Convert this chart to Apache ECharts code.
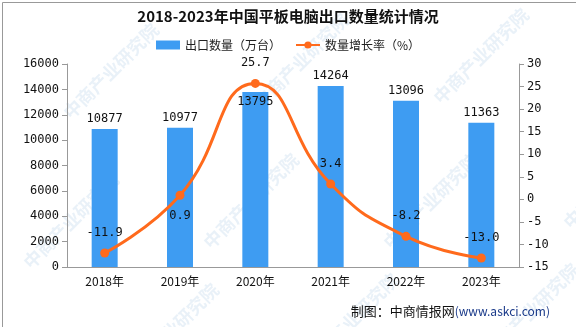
<!DOCTYPE html>
<html>
<head>
<meta charset="utf-8">
<script src="https://cdn.jsdelivr.net/npm/echarts@6/dist/echarts.min.js"></script>
<style>
html,body{margin:0;padding:0;background:#fff;}
#chart{width:576px;height:327px;}
</style>
</head>
<body>
<div id="chart"></div>
<script>
// 2018-2023 tablet export volume (10k units) and year-on-year growth (%)
const years = ['2018年', '2019年', '2020年', '2021年', '2022年', '2023年'];
const exportVolume = [10877, 10977, 13795, 14264, 13096, 11363];
const growthRate = [-11.9, 0.9, 25.7, 3.4, -8.2, -13.0];
const volumeLabelPos = ['top', 'top', 'insideTop', 'top', 'top', 'top'];
const growthLabelPos = ['top', 'bottom', 'top', 'top', 'top', 'top'];

const numFont = '"DejaVu Sans Mono", monospace';
const cjkFont = '"Noto Sans CJK SC", sans-serif';

const chart = echarts.init(document.getElementById('chart'));

// faint diagonal watermark text
const marks = [[60, 20], [250, 10], [430, 5], [20, 170], [200, 150], [380, 150], [560, 130], [120, 280], [300, 270], [480, 260]];
const watermark = marks.map(p => ({
  type: 'text', left: p[0], top: p[1], rotation: Math.PI / 4, z: 0, silent: true,
  style: { text: '中商产业研究院', fill: 'rgba(175,205,230,0.28)', font: 'bold 18px ' + cjkFont }
}));

chart.setOption({
  backgroundColor: '#fff',
  animation: false,
  title: {
    text: '2018-2023年中国平板电脑出口数量统计情况',
    left: 'center', top: 4,
    textStyle: { fontFamily: cjkFont, fontSize: 15, fontWeight: 'bold', color: '#111' }
  },
  legend: {
    top: 34, left: 'center', itemGap: 14, itemWidth: 24, itemHeight: 9,
    textStyle: { fontFamily: cjkFont, fontSize: 12, color: '#222' },
    data: [
      { name: '出口数量（万台）', icon: 'rect' },
      { name: '数量增长率（%）' }
    ]
  },
  grid: { left: 67, right: 57, top: 64, bottom: 60 },
  xAxis: {
    type: 'category', data: years,
    axisLine: { lineStyle: { color: '#999' } },
    axisTick: { alignWithLabel: false, lineStyle: { color: '#999' } },
    axisLabel: { color: '#111', fontFamily: cjkFont, fontSize: 12, margin: 8 }
  },
  yAxis: [
    {
      type: 'value', min: 0, max: 16000, interval: 2000,
      axisLine: { show: true, lineStyle: { color: '#999' } },
      axisTick: { show: true, lineStyle: { color: '#999' } },
      splitLine: { show: false },
      axisLabel: { color: '#111', fontFamily: numFont, fontSize: 12, formatter: v => String(v) }
    },
    {
      type: 'value', min: -15, max: 30, interval: 5,
      axisLine: { show: true, lineStyle: { color: '#999' } },
      axisTick: { show: true, lineStyle: { color: '#999' } },
      splitLine: { show: false },
      axisLabel: { color: '#111', fontFamily: numFont, fontSize: 12 }
    }
  ],
  series: [
    {
      name: '出口数量（万台）', type: 'bar', barWidth: 26,
      itemStyle: { color: '#3e9cf2' },
      data: exportVolume.map((v, i) => ({
        value: v,
        label: { show: true, position: volumeLabelPos[i], distance: 4, color: '#111', fontFamily: numFont, fontSize: 12 }
      }))
    },
    {
      name: '数量增长率（%）', type: 'line', yAxisIndex: 1, smooth: true,
      symbol: 'circle', symbolSize: 9,
      lineStyle: { color: '#ff6a1c', width: 3 },
      itemStyle: { color: '#ff6a1c' },
      data: growthRate.map((v, i) => ({
        value: v,
        label: {
          show: true, position: growthLabelPos[i], distance: 10, color: '#111',
          fontFamily: numFont, fontSize: 12,
          formatter: p => p.value.toFixed(1)
        }
      }))
    }
  ],
  graphic: watermark.concat([
    {
      type: 'rect', left: 0, top: 0, z: 10, silent: true,
      shape: { x: 0.5, y: 0.5, width: 575, height: 326 },
      style: { fill: 'none', stroke: '#999', lineWidth: 1 }
    },
    {
      type: 'text', right: 26, top: 305, z: 10,
      style: {
        text: '{a|制图：中商情报网}{b|(www.askci.com)}',
        rich: {
          a: { fontFamily: cjkFont, fontSize: 13, fill: '#111' },
          b: { fontFamily: cjkFont, fontSize: 12, fill: '#1a3a8a' }
        }
      }
    }
  ])
});
</script>
</body>
</html>
